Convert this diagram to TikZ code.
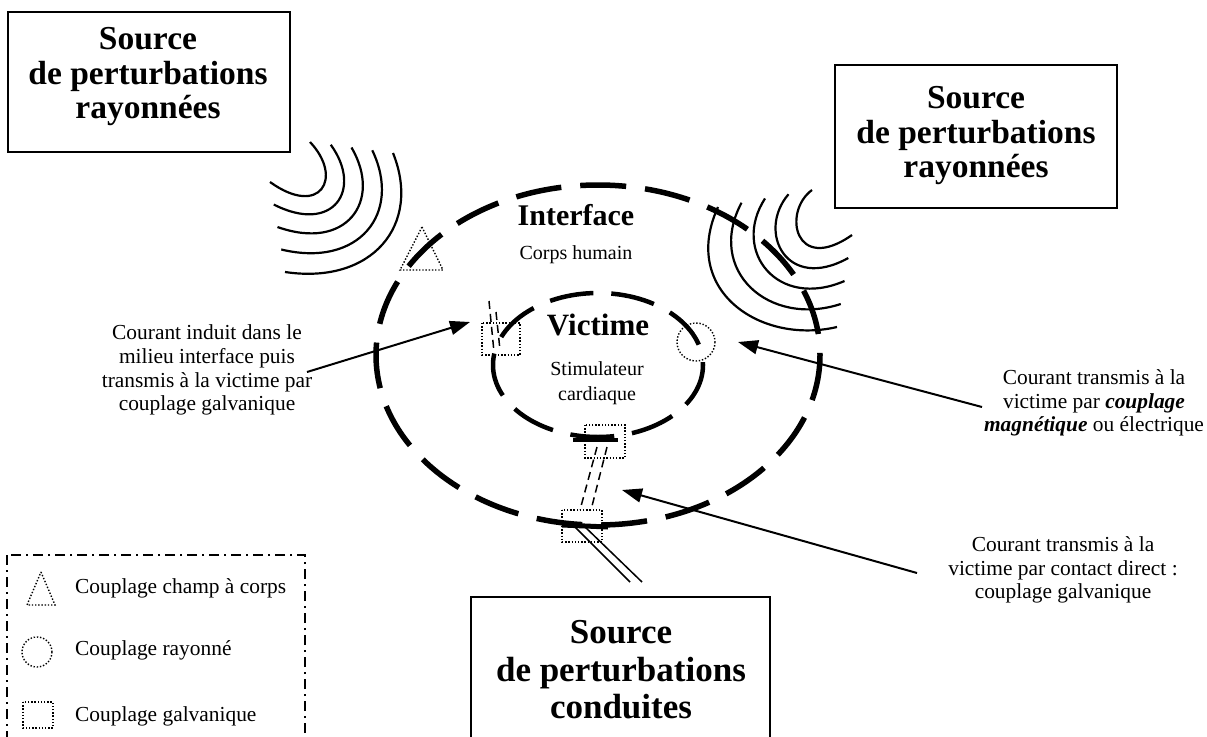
\documentclass[tikz,border=0pt]{standalone}
\usepackage{fontspec}
\setmainfont{Liberation Serif}
\usetikzlibrary{arrows.meta}
\begin{document}
\begin{tikzpicture}[x=1pt,y=-1pt,
  bigtxt/.style={font=\fontsize{33.5}{34.5}\selectfont\bfseries, align=center, inner sep=0pt},
  bigtxtb/.style={font=\fontsize{35}{37.5}\selectfont\bfseries, align=center, inner sep=0pt},
  smalltxt/.style={font=\fontsize{21.4}{23.8}\selectfont, align=center, inner sep=0pt},
  legtxt/.style={font=\fontsize{21.4}{24}\selectfont, anchor=west, inner sep=0pt},
  srcbox/.style={draw, line width=1.8pt},
  outerell/.style={line width=5.5pt, dash pattern=on 46pt off 19pt},
  innerell/.style={line width=4.5pt, dash pattern=on 44pt off 18pt},
  wave/.style={line width=2.2pt},
  dotline/.style={line width=1.4pt, dash pattern=on 1.4pt off 1.8pt},
  wire/.style={line width=1.5pt, dash pattern=on 8pt off 5pt},
  arr/.style={line width=2pt, -{Triangle[length=20pt,width=14pt]}},
  legendbox/.style={line width=1.8pt, dash pattern=on 10pt off 5pt on 2pt off 5pt}
]
\clip (0,0) rectangle (1207,736);
\fill[white] (0,0) rectangle (1207,736);

% source boxes
\draw[srcbox] (8,12) rectangle (290,152);
\node[bigtxt] (src1) at (148,77) {Source\\de perturbations\\rayonnées};
\draw[srcbox] (835,65) rectangle (1117,208);
\node[bigtxt] (src2) at (976,136) {Source\\de perturbations\\rayonnées};
\draw[srcbox] (471,597) rectangle (770,760);
\node[bigtxtb] (src3) at (621,670) {Source\\de perturbations\\conduites};

% waves top-left
\foreach \k in {0,...,4}{
  \pgfmathsetmacro{\t}{\k/4}
  \pgfmathsetmacro{\sx}{310+83*\t}\pgfmathsetmacro{\sy}{142+11*\t}
  \pgfmathsetmacro{\ax}{344+78*\t}\pgfmathsetmacro{\ay}{178+47*\t}
  \pgfmathsetmacro{\bx}{320+52*\t}\pgfmathsetmacro{\by}{218+67*\t}
  \pgfmathsetmacro{\ex}{270+15*\t}\pgfmathsetmacro{\ey}{182+90*\t}
  \draw[wave] (\sx,\sy) .. controls (\ax,\ay) and (\bx,\by) .. (\ex,\ey);
}
% waves top-right
\foreach \k in {0,...,4}{
  \pgfmathsetmacro{\t}{\k/4}
  \pgfmathsetmacro{\sx}{812-94*\t}\pgfmathsetmacro{\sy}{190+17*\t}
  \pgfmathsetmacro{\ax}{782-102*\t}\pgfmathsetmacro{\ay}{212+78*\t}
  \pgfmathsetmacro{\bx}{795-35*\t}\pgfmathsetmacro{\by}{275+70*\t}
  \pgfmathsetmacro{\ex}{852-15*\t}\pgfmathsetmacro{\ey}{235+92*\t}
  \draw[wave] (\sx,\sy) .. controls (\ax,\ay) and (\bx,\by) .. (\ex,\ey);
}

% ellipses
\draw[outerell] (598,355) ellipse [x radius=222, y radius=170];
\draw[innerell] (598,365) ellipse [x radius=105, y radius=72];

% texts in ellipses
\node[font=\fontsize{30}{34}\selectfont\bfseries, inner sep=0pt] (interf) at (576,215) {Interface};
\node[font=\fontsize{20}{24}\selectfont, inner sep=0pt] (corps) at (576,255) {Corps humain};
\node[font=\fontsize{31}{34}\selectfont\bfseries, inner sep=0pt] (vict) at (598,325) {Victime};
\node[font=\fontsize{20}{25}\selectfont, align=center, inner sep=0pt] (stim) at (597,383) {Stimulateur\\cardiaque};

% coupling marks
\draw[dotline] (422,227) -- (443,270) -- (400,270) -- cycle;
\draw[dotline] (696,342) circle [radius=19];
\draw[dotline] (482,323) rectangle (520,355);
\draw[wire] (489,301) -- (494,352);
\draw[wire] (496,312) -- (500,350);
\draw[dotline] (585,425) rectangle (625,458);
\draw[line width=4.5pt] (573,440) -- (618,440);
\draw[wire] (597,447) -- (580,510);
\draw[wire] (607,447) -- (591,510);
\draw[dotline] (562,510) rectangle (602,542);
\draw[line width=5pt] (562,525) -- (608,527);
\draw[line width=1.5pt] (573,525) -- (630,582);
\draw[line width=1.5pt] (583,525) -- (642,582);

% annotations
\node[smalltxt] (ann1) at (207,370) {Courant induit dans le\\milieu interface puis\\transmis à la victime par\\couplage galvanique};
\node[smalltxt] (ann2) at (1094,403) {Courant transmis à la\\victime par \textbf{\textit{couplage}}\\\textbf{\textit{magnétique}} ou électrique};
\node[smalltxt] (ann3) at (1063,570) {Courant transmis à la\\victime par contact direct :\\couplage galvanique};

\coordinate (a1s) at (307,372);
\coordinate (a1e) at (470,322);
\coordinate (a2s) at (982,407);
\coordinate (a2e) at (738,342);
\coordinate (a3s) at (917,573);
\coordinate (a3e) at (622,490);
\draw[arr] (a1s) -- (a1e);
\draw[arr] (a2s) -- (a2e);
\draw[arr] (a3s) -- (a3e);

% legend
\draw[legendbox] (7,555) rectangle (305,770);
\draw[dotline] (41,572) -- (55,605) -- (27,605) -- cycle;
\node[legtxt] (l1) at (75,588) {Couplage champ à corps};
\draw[dotline] (37,652) circle [radius=15];
\node[legtxt] (l2) at (75,650) {Couplage rayonné};
\draw[dotline] (23,702) rectangle (53,728);
\node[legtxt] (l3) at (75,716) {Couplage galvanique};
\end{tikzpicture}
\end{document}
